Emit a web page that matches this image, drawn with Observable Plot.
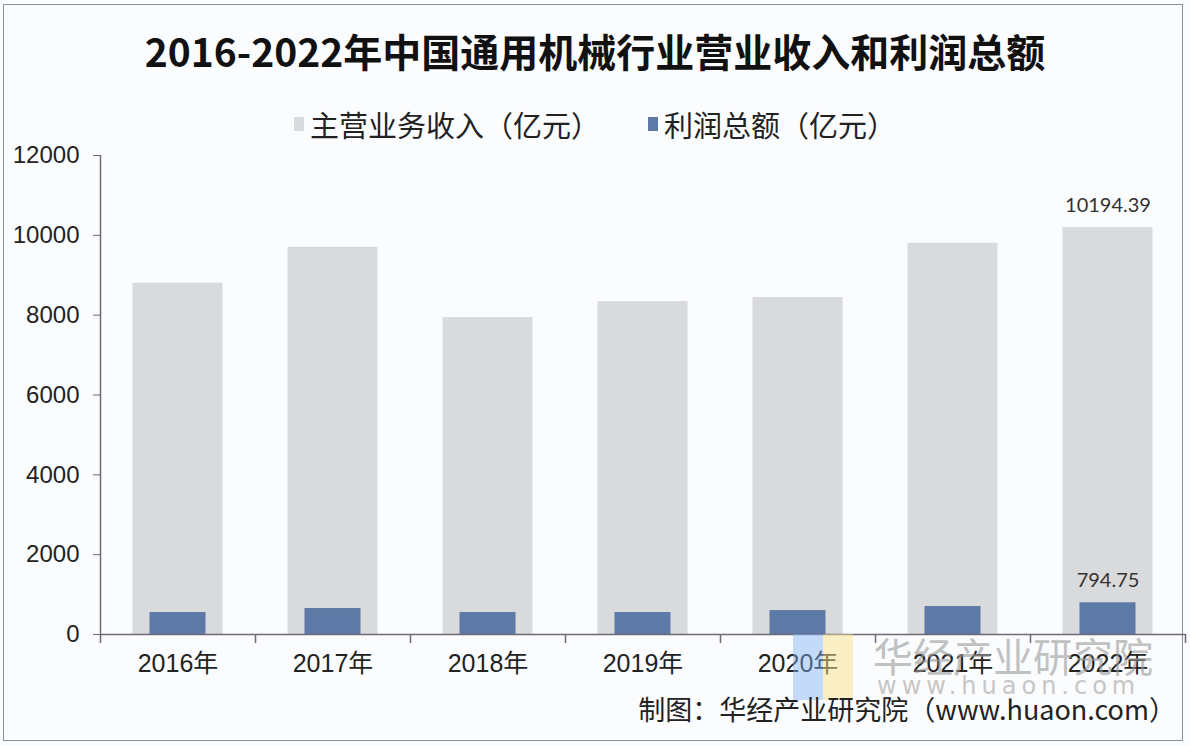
<!DOCTYPE html>
<html>
<head>
<meta charset="utf-8">
<script src="https://cdn.jsdelivr.net/npm/d3@7"></script>
<script src="https://cdn.jsdelivr.net/npm/@observablehq/plot@0.6"></script>
<style>
  html, body { margin: 0; padding: 0; background: #fbfcfe; }
  #wrap { position: relative; width: 1190px; height: 746px; overflow: hidden; background: #fbfcfe; }
  #frame { position: absolute; left: 3px; top: 4px; width: 1180px; height: 737px; border: 1px solid #8e8e96; box-sizing: border-box; }
  #title { position: absolute; left: 0; width: 1190px; top: 24px; text-align: center;
           font-family: "Noto Sans CJK SC", sans-serif; font-weight: 700; font-size: 39px; color: #111; line-height: 52px; }
  #legend { position: absolute; left: 0; width: 1190px; top: 98px; text-align: center;
            font-family: "Noto Sans CJK SC", sans-serif; font-size: 29px; color: #222; line-height: 40px; }
  #legend .item { display: inline-flex; align-items: center; margin: 0 24px; }
  #legend .sw { display: inline-block; width: 10px; height: 14px; margin-right: 6px; }
  #chart { position: absolute; left: 0; top: 140px; }
  #caption { position: absolute; right: 14px; top: 689px; font-family: "Noto Sans CJK SC", "Liberation Sans", sans-serif;
             font-size: 27px; color: #222; line-height: 40px; }
  #wm { position: absolute; left: 793px; top: 634px; pointer-events: none; }
  #wm .b { position: absolute; left: 0; top: 0; width: 30px; height: 66px; background: #7fb3f5; opacity: 0.45; }
  #wm .y { position: absolute; left: 30px; top: 0; width: 30px; height: 66px; background: #f7e08a; opacity: 0.5; }
  #wm .t1 { position: absolute; left: 80px; top: -8px; white-space: nowrap; font-family: "Noto Sans CJK SC", sans-serif;
            font-size: 40px; color: #9a9a9a; opacity: 0.6; }
  #wm .t2 { position: absolute; left: 84px; top: 38px; white-space: nowrap; font-family: "DejaVu Sans", sans-serif;
            font-size: 24px; letter-spacing: 5px; color: #9a9a9a; opacity: 0.55; }
</style>
</head>
<body>
<div id="wrap">
  <div id="frame"></div>
  <div id="title"></div>
  <div id="legend"></div>
  <div id="chart"></div>
  <div id="wm"><div class="b"></div><div class="y"></div><div class="t1">华经产业研究院</div><div class="t2">www.huaon.com</div></div>
  <div id="caption"></div>
</div>
<script>
// ---- data ----
const titleText = "2016-2022年中国通用机械行业营业收入和利润总额";
const captionText = "制图：华经产业研究院（www.huaon.com）";
const years = ["2016年", "2017年", "2018年", "2019年", "2020年", "2021年", "2022年"];
const revenue = [8800, 9700, 7940, 8340, 8440, 9800, 10194.39];
const profit = [550, 650, 550, 550, 600, 700, 794.75];
const seriesNames = ["主营业务收入（亿元）", "利润总额（亿元）"];
const seriesColors = ["#d9dadc", "#5d79a6"];
const yTicks = [0, 2000, 4000, 6000, 8000, 10000, 12000];

// ---- build ----
const rows = years.map((y, i) => ({year: y, revenue: revenue[i], profit: profit[i]}));
const last = rows.slice(-1);

document.getElementById("title").textContent = titleText;
document.getElementById("caption").textContent = captionText;
const legend = document.getElementById("legend");
seriesNames.forEach((n, i) => {
  const it = document.createElement("span");
  it.className = "item";
  const sw = document.createElement("span");
  sw.className = "sw";
  sw.style.background = seriesColors[i];
  it.appendChild(sw);
  it.appendChild(document.createTextNode(n));
  legend.appendChild(it);
});

const W = 1190, mL = 100, mR = 5;
const step = (W - mL - mR) / years.length;
const axisColor = "#6e6878";
const font = '"Liberation Sans", "Noto Sans CJK SC", sans-serif';

const chart = Plot.plot({
  width: W,
  height: 606,
  marginLeft: mL,
  marginRight: mR,
  marginTop: 15,
  marginBottom: 112,
  style: {background: "transparent", fontFamily: font, fontSize: "24px", color: "#222"},
  x: {domain: years, padding: 0, label: null},
  y: {domain: [0, 12000], label: null},
  marks: [
    Plot.barY(rows, {x: "year", y: "revenue", fill: seriesColors[0], insetLeft: 32.5, insetRight: 32.5}),
    Plot.barY(rows, {x: "year", y: "profit", fill: seriesColors[1], insetLeft: 49.5, insetRight: 49.5}),
    Plot.ruleY([0], {stroke: axisColor, strokeWidth: 1.5}),
    Plot.ruleX([years[0]], {x: d => d, y1: 0, y2: 12000, dx: -step / 2, stroke: axisColor, strokeWidth: 1.5}),
    Plot.ruleX(years, {x: d => d, y1: 0, y2: 0, insetBottom: -9, dx: step / 2, stroke: axisColor, strokeWidth: 1.5}),
    Plot.ruleX([years[0]], {x: d => d, y1: 0, y2: 0, insetBottom: -9, dx: -step / 2, stroke: axisColor, strokeWidth: 1.5}),
    Plot.axisY({ticks: yTicks, tickSize: 7, tickPadding: 14, tickFormat: d => String(d), stroke: axisColor, fill: "#222", fontSize: 24}),
    Plot.axisX({tickSize: 0, tickPadding: 20, fill: "#222", fontSize: 25}),
    Plot.text(last, {x: "year", y: "revenue", text: d => String(d.revenue), lineAnchor: "bottom", dy: -16,
      fontFamily: "Lato, 'Open Sans', sans-serif", fontSize: 20, fill: "#333"}),
    Plot.text(last, {x: "year", y: "profit", text: d => String(d.profit), lineAnchor: "bottom", dy: -16,
      fontFamily: "Lato, 'Open Sans', sans-serif", fontSize: 20, fill: "#333"})
  ]
});
document.getElementById("chart").appendChild(chart);
</script>
</body>
</html>
